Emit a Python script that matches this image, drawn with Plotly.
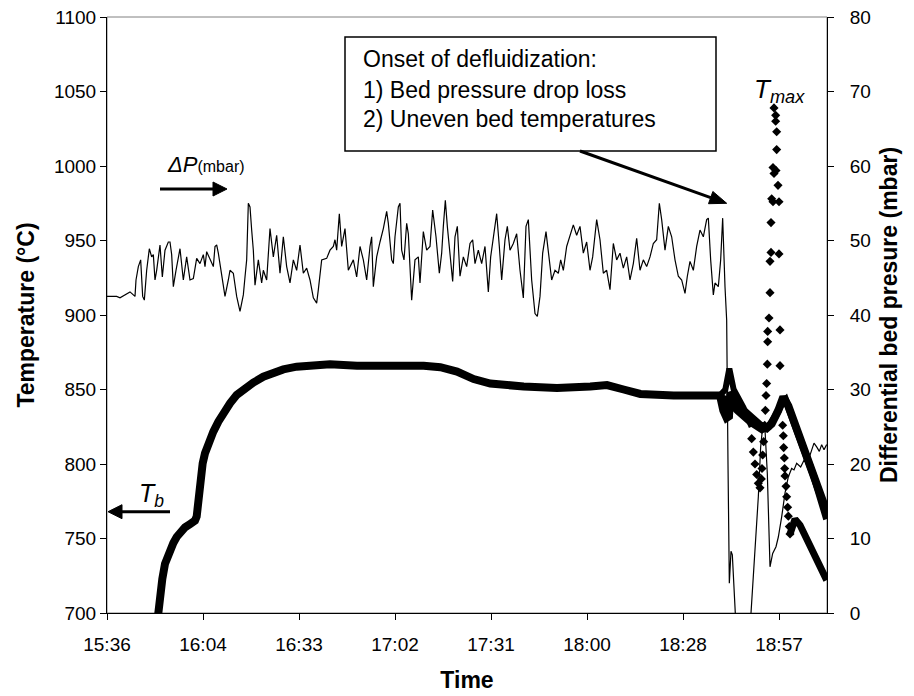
import plotly.graph_objects as go

# ---------------- data ----------------
# time in minutes after 15:36
tick_minutes = [0, 28.8, 57.6, 86.4, 115.2, 144.0, 172.8, 201.6]
tick_labels = ["15:36", "16:04", "16:33", "17:02", "17:31", "18:00", "18:28", "18:57"]

# Differential bed pressure (mbar)
dp_time = [0, 2.9, 3.9, 5.4, 6.9, 7.9, 8.4, 8.7, 9.4, 10.1, 10.7, 11.2, 11.9, 12.7, 13.4, 13.9, 14.4, 14.9,
           15.9, 16.6, 17.4, 18.4, 18.9, 19.4, 19.9, 20.7, 21.9, 22.9, 23.9, 24.9, 25.9, 26.9, 27.9, 28.9,
           29.4, 29.9, 30.9, 31.9, 32.4, 32.9, 33.4, 34.4, 35.4, 36.4, 36.9, 37.9, 38.9, 39.9, 40.9, 41.4,
           41.9, 42.4, 42.9, 43.4, 43.9, 44.4, 45.4, 46.4, 46.9, 47.9, 48.9, 49.9, 50.9, 51.9, 52.9, 53.9,
           54.9, 55.9, 56.9, 57.9, 58.9, 59.9, 60.9, 61.9, 62.9, 63.4, 64.4, 65.9, 66.9, 67.9, 68.4, 68.9,
           69.7, 70.4, 71.4, 72.4, 73.9, 74.9, 75.9, 76.9, 77.9, 78.9, 79.4, 79.9, 80.9, 81.9, 82.9, 83.9,
           84.4, 85.4, 85.9, 86.4, 87.4, 87.9, 88.4, 89.1, 89.9, 90.4, 91.4, 92.4, 93.4, 93.9, 94.9, 95.9,
           96.9, 97.7, 98.7, 99.7, 100.4, 100.9, 101.5, 102.1, 102.9, 103.7, 104.4, 105.1, 105.9, 106.9,
           107.9, 108.9, 109.7, 110.4, 111.4, 112.4, 113.4, 114.4, 115.1, 115.9, 116.9, 117.7, 118.4,
           119.4, 120.1, 120.9, 121.9, 122.9, 123.9, 124.9, 125.7, 126.4, 127.4, 128.4, 129.1, 129.9,
           130.7, 131.7, 132.4, 133.4, 134.4, 135.4, 136.1, 136.9, 137.9, 138.9, 139.9, 140.9, 141.9,
           142.9, 143.9, 144.9, 145.7, 146.9, 147.9, 148.9, 149.9, 150.9, 151.9, 152.9, 153.9, 154.9,
           155.9, 156.9, 157.9, 158.9, 159.9, 160.9, 161.9, 162.9, 163.9, 164.9, 165.7, 166.4, 167.4,
           168.4, 169.4, 170.4, 171.4, 172.4, 173.4, 174.1, 174.9, 175.9, 176.9, 177.9, 178.9, 179.9,
           180.4, 181.1, 181.9, 182.4, 183.4, 184.1, 184.7, 185.4, 185.9, 186.3, 186.7, 187.2, 187.6,
           188.6, 191.0, 193.2, 194.4, 195.4, 196.1, 196.7, 197.4, 198.1, 198.9, 199.7, 200.7, 201.4,
           202.4, 203.4, 204.4, 205.4, 206.1, 206.9, 208.1, 209.1, 210.1, 211.1, 212.1, 212.9, 213.7,
           214.4, 215.1, 215.9]
dp_mbar = [42.5, 42.5, 42.3, 42.7, 43.1, 42.7, 42.5, 44.7, 46.5, 47.4, 42.5, 42.0, 46.0, 48.9, 47.8, 48.1, 44.7, 46.0,
           49.4, 45.1, 48.7, 49.8, 49.8, 48.1, 43.8, 46.0, 48.9, 44.7, 47.8, 44.7, 44.9, 47.6, 46.9, 48.1,
           46.5, 48.5, 47.4, 46.5, 49.2, 49.4, 48.3, 45.1, 42.5, 44.7, 46.0, 45.6, 42.5, 40.5, 42.7, 45.1,
           47.4, 55.0, 54.5, 51.4, 48.7, 44.0, 47.4, 44.3, 46.0, 44.7, 51.6, 47.8, 50.7, 45.6, 50.5, 46.5,
           44.3, 47.4, 46.0, 49.4, 45.6, 46.3, 44.7, 42.3, 41.6, 43.4, 47.4, 47.6, 48.7, 49.2, 50.1, 48.7,
           53.6, 49.2, 51.6, 46.0, 47.4, 45.1, 49.2, 47.4, 44.7, 49.2, 50.5, 43.8, 47.8, 49.8, 51.6, 53.9,
           52.3, 47.4, 46.9, 50.5, 54.5, 55.0, 48.7, 47.4, 52.3, 50.9, 42.0, 47.4, 47.8, 44.3, 51.2, 48.7,
           49.2, 54.1, 50.5, 45.6, 48.3, 51.9, 55.4, 51.9, 48.3, 44.5, 50.5, 51.9, 45.2, 47.8,
           46.5, 49.6, 50.1, 46.9, 48.7, 46.9, 49.2, 43.1, 47.8, 50.5, 53.6, 49.2, 44.7,
           50.1, 51.9, 48.7, 49.6, 50.9, 46.0, 42.3, 51.9, 52.8, 44.7, 40.2, 39.8, 42.5,
           48.3, 51.2, 48.7, 44.7, 46.0, 45.6, 47.4, 46.0, 49.2, 50.5, 52.1, 50.7, 51.9,
           48.3, 49.8, 46.0, 47.8, 52.8, 50.1, 45.6, 46.0, 43.4, 49.6, 47.4, 48.3, 46.3,
           47.8, 44.7, 46.9, 50.3, 46.0, 47.4, 46.5, 47.8, 49.6, 50.1, 55.0, 52.8, 48.7,
           51.9, 50.5, 47.4, 45.2, 44.7, 42.9, 45.2, 47.2, 46.0, 49.2, 51.4, 50.5, 52.8,
           53.0, 47.4, 42.7, 44.3, 43.8, 47.4, 53.0, 43.8, 39.3, 20.0, 4.0, 8.3, 7.8,
           -1.0, -3.0, 0.0, 8.0, 15.6, 22.3, 25.0, 24.6, 18.7, 6.2, 8.0, 8.9, 10.2,
           12.9, 16.1, 18.3, 19.4, 19.2, 20.1, 19.6, 20.5, 20.1, 21.4, 22.8, 22.3, 21.7,
           22.6, 21.9, 22.6]

# Bed temperature Tb (degC)
tb_time = [15.3, 15.7, 16.1, 16.6, 17.4, 18.1, 18.9, 19.9, 20.9, 22.1, 23.4, 24.9, 26.4, 26.9, 27.4, 27.7,
           28.1, 28.7, 29.4, 30.4, 31.9, 33.4, 34.9, 36.9, 38.9, 41.4, 43.9, 46.9, 49.9, 52.9, 56.9, 60.9,
           64.9, 66.9, 75.0, 85.0, 95.0, 100.0, 105.0, 110.0, 115.0, 125.0, 135.0, 145.0, 150.0,
           155.0, 160.0, 170.0, 180.0, 183.9, 184.9, 185.9, 186.6, 187.0, 189.9, 192.9, 195.9, 197.9,
           199.4, 201.4, 202.9, 204.4, 206.9, 209.9, 212.9, 215.9]
tb_temp = [698, 711, 715, 723, 733, 738, 742, 747, 751, 755, 757.5, 759.7, 762, 764.7, 775.8, 787,
           793.7, 800.4, 807.2, 813.9, 821.7, 828.4, 834, 840.7, 846.3, 850.8, 854.6, 858.6, 861.3, 863.5, 865.3, 866,
           866.7, 866.9, 866, 866.5, 866, 865, 862, 857, 854, 852, 851, 852, 853,
           850, 847, 846, 846, 846, 836, 831, 832, 848, 838, 832, 826, 824,
           827, 836, 845, 839, 823, 805, 787, 768]

# second bed thermocouple, after the onset of defluidization
t2_time = [183.9, 186.0, 189.0, 193.0, 196.5, 198.5, 200.5, 202.3, 203.6, 205.5, 208.5, 212.0, 215.9]
t2_temp = [845, 843, 836, 828, 823, 825, 832, 840, 843, 832, 812, 792, 763]

# hottest thermocouple (Tmax): slow parts and fast excursion
tm_a_time = [183.9, 185.5, 186.7, 187.3, 188.0, 190.9, 193.4]
tm_a_temp = [846, 850, 864, 856, 850, 838, 825]
tm_fast_time = [193.4, 193.9, 194.4, 194.9, 195.4, 195.9, 196.3, 196.5, 196.7, 197.0, 197.3, 197.5, 197.7,
                197.9, 198.1, 198.2, 198.2, 198.6, 198.9, 198.9, 199.2, 199.2, 199.4, 199.8, 199.8, 200.1,
                200.1, 200.6, 200.6, 200.9, 200.9, 200.7, 201.3, 201.6, 201.6, 201.9, 201.9, 202.7, 202.9,
                203.0, 203.2, 203.3, 203.4, 203.7, 203.9, 204.2, 204.4, 204.7, 204.9]
tm_fast_temp = [817, 808, 800, 793, 787, 784, 790, 797, 806, 815, 826, 836, 846,
                854, 867, 882, 889, 898, 915, 936, 942, 962, 978, 976, 999, 995,
                1039, 1034, 1030, 1023, 1011, 997, 987, 976, 941, 890, 866, 826, 819,
                811, 804, 797, 792, 785, 778, 771, 765, 758, 753]
tm_b_time = [204.9, 205.6, 206.4, 207.9, 210.0, 213.0, 215.9]
tm_b_temp = [753, 758, 763, 759, 749, 735, 722]

# ---------------- figure ----------------
FONT = "Arial, 'Liberation Sans', sans-serif"
W, H = 914, 696
ML, MR, MT, MB = 107, 87, 17, 83
PW, PH = W - ML - MR, H - MT - MB

fig = go.Figure()

fig.add_trace(go.Scatter(x=dp_time, y=dp_mbar, yaxis="y2", mode="lines",
                         line=dict(color="black", width=1.2), showlegend=False))
for xs, ys, w in [(tb_time, tb_temp, 8), (t2_time, t2_temp, 7), (tm_a_time, tm_a_temp, 6), (tm_b_time, tm_b_temp, 7)]:
    fig.add_trace(go.Scatter(x=xs, y=ys, mode="lines", line=dict(color="black", width=w),
                             showlegend=False))
fig.add_trace(go.Scatter(x=tm_fast_time, y=tm_fast_temp, mode="markers",
                         marker=dict(symbol="diamond", size=7, color="black"), showlegend=False))

axis_common = dict(showline=True, linecolor="black", linewidth=1, ticks="outside", ticklen=6,
                   tickcolor="black", showgrid=False, zeroline=False, automargin=False,
                   tickfont=dict(family=FONT, size=19, color="black"))

fig.update_layout(
    width=W, height=H,
    margin=dict(l=ML, r=MR, t=MT, b=MB, autoexpand=False),
    paper_bgcolor="white", plot_bgcolor="white",
    font=dict(family=FONT, color="black"),
    xaxis=dict(range=[0, 216], tickvals=tick_minutes, ticktext=tick_labels, ticklabelstandoff=8,
               title=dict(text="<b>Time</b>", font=dict(family=FONT, size=23), standoff=18),
               **axis_common),
    yaxis=dict(range=[700, 1100], dtick=50,
               title=dict(text="<b>Temperature (°C)</b>", font=dict(family=FONT, size=23), standoff=12),
               **axis_common),
    yaxis2=dict(range=[0, 80], dtick=10, overlaying="y", side="right", ticklabelstandoff=12,
                title=dict(text="<b>Differential bed presure (mbar)</b>", font=dict(family=FONT, size=23), standoff=10),
                **axis_common),
)


def px2paper(px, py):
    return (px - ML) / PW, (MT + PH - py) / PH


def arrow(tail, tip, head_len, head_w, width=3):
    (x0, y0), (x1, y1) = tail, tip
    dx, dy = x1 - x0, y1 - y0
    n = (dx * dx + dy * dy) ** 0.5
    ux, uy = dx / n, dy / n
    bx, by = x1 - head_len * ux, y1 - head_len * uy
    a = px2paper(x0, y0)
    b = px2paper(bx, by)
    fig.add_shape(type="line", xref="paper", yref="paper", x0=a[0], y0=a[1], x1=b[0], y1=b[1],
                  line=dict(color="black", width=width))
    p1 = px2paper(bx - uy * head_w / 2, by + ux * head_w / 2)
    p2 = px2paper(bx + uy * head_w / 2, by - ux * head_w / 2)
    pt = px2paper(x1, y1)
    fig.add_shape(type="path", xref="paper", yref="paper",
                  path=f"M {pt[0]} {pt[1]} L {p1[0]} {p1[1]} L {p2[0]} {p2[1]} Z",
                  fillcolor="black", line=dict(color="black", width=1))


# plot-area frame (grey)
fig.add_shape(type="rect", xref="paper", yref="paper", x0=0, y0=0, x1=1, y1=1,
              line=dict(color="#808080", width=1), layer="below")

# annotation box
bx0, by0 = px2paper(345, 151)
bx1, by1 = px2paper(716, 37)
fig.add_shape(type="rect", xref="paper", yref="paper", x0=bx0, x1=bx1, y0=by0, y1=by1,
              line=dict(color="black", width=1.5), fillcolor="white")
for txt, py in [("Onset of defluidization:", 59), ("1) Bed pressure drop loss", 90),
                ("2) Uneven bed temperatures", 119)]:
    xx, yy = px2paper(361, py)
    fig.add_annotation(xref="paper", yref="paper", x=xx, y=yy, text=txt, showarrow=False,
                       xanchor="left", yanchor="middle", font=dict(family=FONT, size=23, color="black"))

# arrows
arrow((580, 151), (726.7, 203.3), 17, 13)
arrow((160, 189), (227, 189), 14, 14)
arrow((170, 511.7), (108, 511.7), 14, 14)

# Delta P label
xx, yy = px2paper(165, 165)
fig.add_annotation(xref="paper", yref="paper", x=xx, y=yy,
                   text="<i>ΔP</i><span style='font-size:16px'>(mbar)</span>", showarrow=False,
                   xanchor="left", yanchor="middle", font=dict(family=FONT, size=22, color="black"))

# Tb label
xx, yy = px2paper(137, 495)
fig.add_annotation(xref="paper", yref="paper", x=xx, y=yy,
                   text="<i>T<sub>b</sub></i>", showarrow=False, xanchor="left", yanchor="middle",
                   font=dict(family=FONT, size=25, color="black"))

# Tmax label
xx, yy = px2paper(779, 91)
fig.add_annotation(xref="paper", yref="paper", x=xx, y=yy,
                   text="<i>T<sub>max</sub></i>", showarrow=False, xanchor="center", yanchor="middle",
                   font=dict(family=FONT, size=26, color="black"))

fig.write_html("out.html")
